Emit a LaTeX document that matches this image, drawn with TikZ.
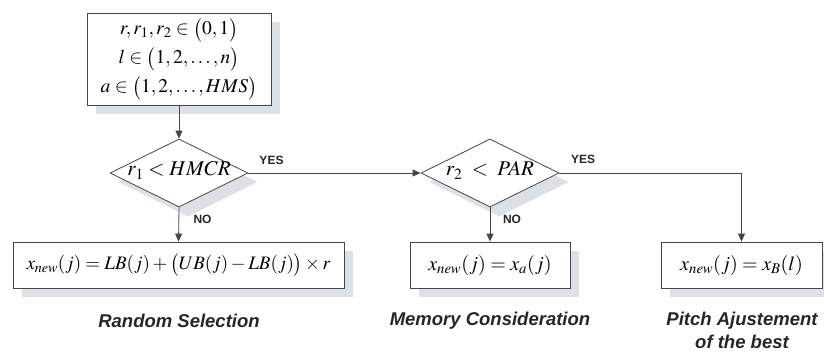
\documentclass[tikz,border=0pt]{standalone}
\usepackage{mathptmx}
\usepackage{fontspec}
\setmainfont{Liberation Serif}
\setsansfont{Liberation Sans}
\usetikzlibrary{shapes.geometric,arrows.meta,backgrounds}
\definecolor{shgray}{RGB}{221,224,228}
\definecolor{lnc}{RGB}{70,70,70}
\tikzset{
  box/.style={draw=lnc, line width=0.8pt, fill=white, inner sep=0pt, align=center},
  decision/.style={diamond, draw=lnc, line width=0.8pt, fill=white, inner sep=0pt,
    minimum width=138pt, minimum height=68pt,
    font=\fontsize{21}{24}\selectfont},
  conn/.style={draw=lnc, line width=0.8pt, -{Triangle[length=8pt,width=7pt]}},
  yn/.style={font=\sffamily\bfseries\fontsize{12}{13}\selectfont, text=black!85, inner sep=0pt},
  caption/.style={font=\sffamily\bfseries\itshape\fontsize{18.5}{23}\selectfont, text=black!85, align=center, inner sep=0pt},
  shadowfill/.style={fill=shgray}
}
\newcommand{\ctrtext}[1]{\smash{\makebox[0pt]{#1}}}
\begin{document}
\begin{tikzpicture}[x=1pt,y=-1pt]
\useasboundingbox (0,0) rectangle (824,351);
\node[box, minimum width=184pt, minimum height=92pt, font=\fontsize{19.5}{29}\selectfont] (init) at (179,59)
  {$r,r_1,r_2 \in \bigl(0,1\bigr)$\\ $l \in \bigl(1,2,\ldots,n\bigr)$\\ $a \in \bigl(1,2,\ldots,HMS\bigr)$};
\node[decision] (d1) at (179,173) {\ctrtext{\raisebox{-0.3ex}{$r_1 < HMCR$}}};
\node[decision] (d2) at (490,173) {\ctrtext{\raisebox{-0.3ex}{$r_2 \mathrel{\;<\;} PAR$}}};
\node[box, minimum width=331pt, minimum height=46pt, font=\fontsize{19}{22}\selectfont] (b1) at (178.5,265)
  {$\medmuskip=2.5mu \thickmuskip=4mu x_{new}(j) = LB(j) + \bigl(UB(j) - LB(j)\bigr)\times r$};
\node[box, minimum width=160pt, minimum height=46pt, font=\fontsize{20}{22}\selectfont] (b2) at (490,265)
  {$x_{new}(j) = x_a(j)$};
\node[box, minimum width=161pt, minimum height=46pt, font=\fontsize{20}{22}\selectfont] (b3) at (741.5,265)
  {$x_{new}(j) = x_B(l)$};
\begin{scope}[on background layer]
  \foreach \n in {init,b1,b2,b3}
    \fill[shadowfill] ([shift={(9,9)}]\n.south west) rectangle ([shift={(9,9)}]\n.north east);
  \foreach \n in {d1,d2}
    \fill[shadowfill] ([shift={(9,9)}]\n.north) -- ([shift={(9,9)}]\n.east)
      -- ([shift={(9,9)}]\n.south) -- ([shift={(9,9)}]\n.west) -- cycle;
\end{scope}
\draw[conn] (init.south) -- (d1.north);
\draw[conn] (d1.south) -- (b1.north);
\draw[conn] (d1.east) -- (d2.west);
\draw[conn] (d2.south) -- (b2.north);
\draw[conn] (d2.east) -| (b3.north);
\node[yn] (yes1) at (271.5,160) {YES};
\node[yn] (no1) at (202.5,219) {NO};
\node[yn] (yes2) at (583,159) {YES};
\node[yn] (no2) at (512,219) {NO};
\node[caption] (c1) at (179,321) {Random Selection};
\node[caption] (c2) at (490,321) {Memory Consideration};
\node[caption] (c3) at (742,330) {Pitch Ajustement\\of the best};
\end{tikzpicture}
\end{document}
